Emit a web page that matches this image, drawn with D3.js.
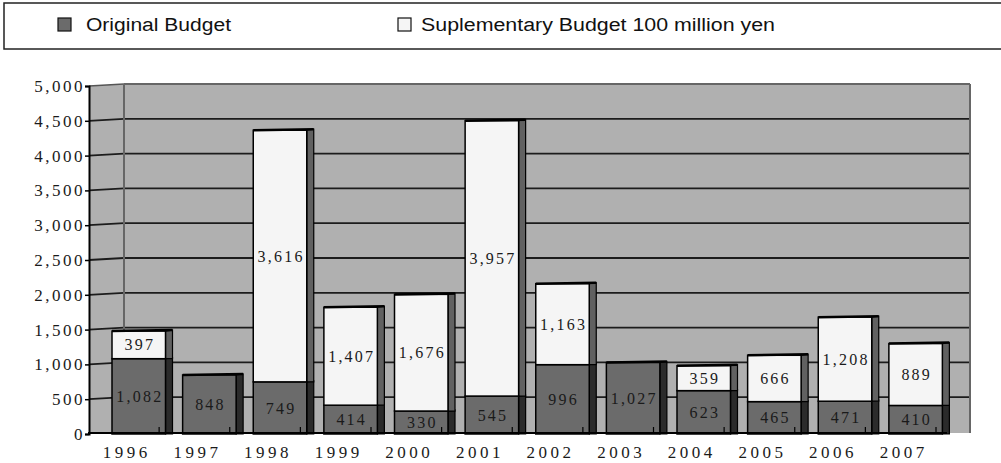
<!DOCTYPE html>
<html lang="en">
<head>
<meta charset="utf-8">
<title>Budget</title>
<script src="https://cdn.jsdelivr.net/npm/d3@7"></script>
<style>
  html, body { margin: 0; padding: 0; background: #fff; }
  svg { display: block; }
  .num { font-family: 'Liberation Serif', 'DejaVu Serif', serif; fill: #1a1a1a; }
  .leg { font-family: 'Liberation Sans', Arial, sans-serif; font-size: 18px; fill: #111; }
</style>
</head>
<body>
<script>
// data
var years = ["1996","1997","1998","1999","2000","2001","2002","2003","2004","2005","2006","2007"];
var original = [1082, 848, 749, 414, 330, 545, 996, 1027, 623, 465, 471, 410];
var supplementary = [397, 0, 3616, 1407, 1676, 3957, 1163, 0, 359, 666, 1208, 889];
var yTicks = [0, 500, 1000, 1500, 2000, 2500, 3000, 3500, 4000, 4500, 5000];
var seriesNames = ["Original Budget", "Suplementary Budget 100 million yen"];

var w = 1001, h = 463;
var svg = d3.select("body").append("svg").attr("width", w).attr("height", h);

var fmt = d3.format(",");

// legend box
svg.append("rect")
  .attr("x", 4).attr("y", 3).attr("width", 1010).attr("height", 46)
  .attr("fill", "#fff").attr("stroke", "#222").attr("stroke-width", 1.5);

var legendItems = [
  { name: seriesNames[0], fill: "#6b6b6b", sx: 58, tx: 86, len: 145 },
  { name: seriesNames[1], fill: "#f5f5f5", sx: 398, tx: 421, len: 354 }
];
legendItems.forEach(function (d) {
  svg.append("rect").attr("x", d.sx).attr("y", 18).attr("width", 13).attr("height", 13)
    .attr("fill", d.fill).attr("stroke", "#111").attr("stroke-width", 1.2);
  svg.append("text").attr("class", "leg").attr("x", d.tx).attr("y", 31)
    .attr("textLength", d.len).attr("lengthAdjust", "spacingAndGlyphs")
    .text(d.name);
});

// scales
var left = 89, right = 970, depthX = 35, depthY = 2;
var x = d3.scaleBand().domain(years).range([88.5, 936]).padding(0);
var y = d3.scaleLinear().domain([0, 5000]).range([434, 86]);

// walls
var wallTop = y(5000) - depthY;
svg.append("path")
  .attr("d", "M" + left + "," + y(5000) + "L" + (left + depthX) + "," + wallTop +
    "L" + right + "," + wallTop + "L" + right + ",433L" + left + ",433Z")
  .attr("fill", "#b0b0b0");

// grid lines (side wall slanted + back wall)
var grid = svg.append("g");
yTicks.slice(1, -1).forEach(function (v) {
  grid.append("path")
    .attr("d", "M" + left + "," + y(v) + "L" + (left + depthX) + "," + (y(v) - depthY) + "L" + right + "," + (y(v) - depthY))
    .attr("fill", "none").attr("stroke", "#1c1c1c").attr("stroke-width", 1.8);
});
// top edges
grid.append("path")
  .attr("d", "M" + left + "," + y(5000) + "L" + (left + depthX) + "," + wallTop)
  .attr("fill", "none").attr("stroke", "#555").attr("stroke-width", 1.5);
grid.append("line").attr("x1", left + depthX).attr("x2", right).attr("y1", wallTop).attr("y2", wallTop)
  .attr("stroke", "#666").attr("stroke-width", 2);
grid.append("line").attr("x1", left + depthX).attr("x2", left + depthX).attr("y1", wallTop).attr("y2", 433)
  .attr("stroke", "#666").attr("stroke-width", 2);
grid.append("line").attr("x1", right).attr("x2", right).attr("y1", wallTop).attr("y2", 433)
  .attr("stroke", "#666").attr("stroke-width", 2);

// bars
var bx = 23.5, bw = 53.5, side = 7;
var stack = years.map(function (yr, i) {
  return [
    { year: yr, v0: 0, v1: original[i], val: original[i], front: "#6b6b6b", side: "#2b2b2b" },
    { year: yr, v0: original[i], v1: original[i] + supplementary[i], val: supplementary[i], front: "#f5f5f5", side: "#616161" }
  ];
});
var segs = d3.merge(stack).filter(function (d) { return d.val > 0; });

var bars = svg.append("g");
bars.selectAll("path.side").data(segs).enter().append("path")
  .attr("class", "side")
  .attr("d", function (d) {
    var x1 = x(d.year) + bx + bw, x2 = x1 + side;
    return "M" + x1 + "," + y(d.v1) + "L" + x2 + "," + (y(d.v1) - 1) + "L" + x2 + "," + y(d.v0) + "L" + x1 + "," + y(d.v0) + "Z";
  })
  .attr("fill", function (d) { return d.side; })
  .attr("stroke", "#000").attr("stroke-width", 1.2);

bars.selectAll("rect.front").data(segs).enter().append("rect")
  .attr("class", "front")
  .attr("x", function (d) { return x(d.year) + bx; })
  .attr("y", function (d) { return y(d.v1); })
  .attr("width", bw)
  .attr("height", function (d) { return y(d.v0) - y(d.v1); })
  .attr("fill", function (d) { return d.front; })
  .attr("stroke", "#000").attr("stroke-width", 1.5);

// top edge of each stack
bars.selectAll("line.top").data(stack).enter().append("line")
  .attr("x1", function (d) { return x(d[0].year) + bx; })
  .attr("x2", function (d) { return x(d[0].year) + bx + bw + side; })
  .attr("y1", function (d) { return y(d[1].v1); })
  .attr("y2", function (d) { return y(d[1].v1) - 1; })
  .attr("stroke", "#000").attr("stroke-width", 2.5);

// value labels
var ls = 2.2;
bars.selectAll("text").data(segs).enter().append("text")
  .attr("class", "num")
  .attr("x", function (d) { return x(d.year) + bx + bw / 2 + ls / 2; })
  .attr("y", function (d) { return (y(d.v0) + y(d.v1)) / 2; })
  .attr("dy", "0.35em")
  .attr("text-anchor", "middle")
  .style("font-size", "16px")
  .style("letter-spacing", ls + "px")
  .text(function (d) { return fmt(d.val); });

// axes
var axisY = d3.axisLeft(y).tickValues(yTicks).tickSize(4).tickFormat(fmt);
var gy = svg.append("g").attr("transform", "translate(" + left + ",0)").call(axisY);
gy.select(".domain").attr("stroke", "#000").attr("stroke-width", 2);
gy.selectAll(".tick line").attr("stroke", "#000").attr("stroke-width", 1.5);
gy.selectAll(".tick text").attr("class", "num").attr("x", -4)
  .style("font-size", "17px").style("letter-spacing", "2.5px").attr("fill", "#1a1a1a");

var axisX = d3.axisBottom(x).tickSize(0).tickPadding(13);
var gx = svg.append("g").attr("transform", "translate(0,433)").call(axisX);
gx.select(".domain").remove();
gx.selectAll(".tick text").attr("class", "num").attr("dx", "3px")
  .style("font-size", "17px").style("letter-spacing", "3.5px").attr("fill", "#1a1a1a");

svg.append("line").attr("x1", 88).attr("x2", 947).attr("y1", 433).attr("y2", 433)
  .attr("stroke", "#000").attr("stroke-width", 2);

// small ticks at band boundaries
svg.append("g").selectAll("line").data(years.slice(1).concat(["end"])).enter().append("line")
  .attr("x1", function (d, i) { return x.range()[0] + x.step() * (i + 1); })
  .attr("x2", function (d, i) { return x.range()[0] + x.step() * (i + 1); })
  .attr("y1", 427).attr("y2", 433)
  .attr("stroke", "#000").attr("stroke-width", 1.2);
</script>
</body>
</html>
